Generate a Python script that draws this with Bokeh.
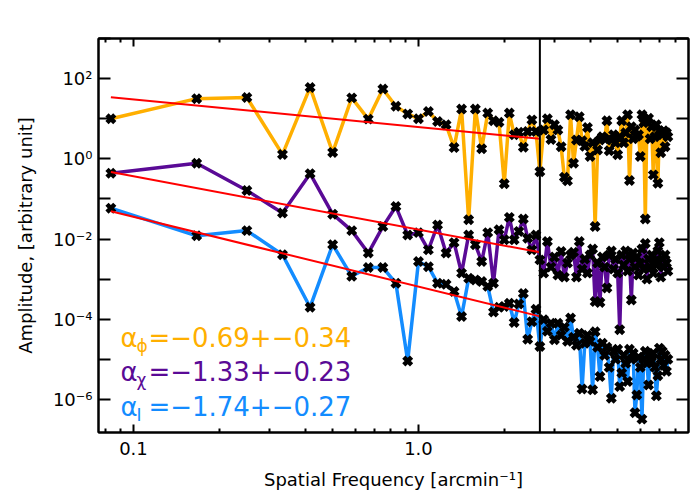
import numpy as np
from bokeh.plotting import figure
from bokeh.models import LogAxis, FixedTicker, Span, Label
from bokeh.embed import file_html
from bokeh.resources import INLINE

# ---------------- data ----------------
# FFT frequency bins: k / 12 arcmin^-1, k = 1..90
freq = np.arange(1, 91) / 12.0

# log10 of amplitude, one value per frequency bin
phi_log10 = [
    1.00, 1.50, 1.53, 0.11, 1.78, 0.16, 1.52, 0.99, 1.74, 1.31,
    1.12, 1.00, 1.18, 0.93, 0.85, 0.28, 1.24, -1.52, 1.24, 0.25,
    1.14, 0.95, 0.91, -0.62, 1.14, 0.60, 0.66, 0.29, 0.68, 0.97,
    0.68, -0.32, 0.72, 1.00, 0.48, 0.85, 0.72, 0.30, -0.46, -0.55,
    1.10, -0.11, 0.47, 1.05, 0.45, 0.31, 0.78, 0.06, 0.40, -1.69,
    0.22, 0.47, 0.55, 0.50, 0.95, 0.20, 0.47, 0.60, 0.40, 0.10,
    0.55, 0.95, 0.40, 0.65, 1.10, -0.54, 0.80, 0.50, 0.72, 0.56,
    0.60, 0.06, 1.10, 0.90, -1.50, 0.95, 1.01, 0.50, 0.80, -0.40,
    0.55, 0.85, -0.61, 0.70, 0.15, 0.60, 0.70, 0.30, 0.65, 0.55,
]
chi_log10 = [
    -0.36, -0.11, -0.79, -1.35, -0.37, -1.38, -1.79, -2.35, -1.69, -1.19,
    -1.90, -1.84, -2.27, -1.65, -2.35, -2.09, -2.85, -1.90, -2.14, -2.56,
    -1.84, -3.10, -1.77, -2.02, -1.46, -2.02, -1.81, -1.50, -1.98, -2.27,
    -1.90, -2.52, -2.85, -2.06, -2.70, -2.45, -2.90, -2.31, -2.95, -2.60,
    -2.40, -2.33, -2.95, -2.06, -2.75, -2.50, -2.85, -2.40, -2.25, -3.56,
    -2.60, -3.58, -2.45, -2.70, -3.22, -2.40, -2.30, -2.75, -2.50, -2.85,
    -4.26, -2.40, -2.65, -2.30, -2.80, -2.50, -3.52, -2.35, -2.70, -2.45,
    -2.90, -2.60, -2.25, -2.75, -2.11, -3.00, -2.50, -2.70, -2.40, -2.85,
    -2.55, -2.65, -2.30, -2.09, -2.95, -2.50, -2.70, -2.40, -2.60, -2.80,
]
I_log10 = [
    -1.23, -1.92, -1.79, -2.39, -3.70, -2.14, -2.93, -2.71, -2.71, -3.10,
    -5.04, -2.56, -2.69, -3.10, -3.13, -3.31, -3.93, -2.98, -3.02, -3.06,
    -3.18, -3.82, -3.70, -3.68, -3.60, -4.08, -3.62, -3.36, -4.50, -4.06,
    -3.75, -4.68, -4.01, -4.30, -4.10, -4.51, -4.10, -4.40, -4.20, -4.55,
    -3.97, -4.45, -4.65, -4.35, -5.74, -4.60, -4.40, -4.55, -5.76, -4.31,
    -4.70, -5.43, -4.60, -4.90, -4.70, -5.20, -5.97, -4.80, -5.00, -4.75,
    -5.68, -5.34, -4.90, -5.10, -5.55, -4.75, -5.00, -4.85, -6.33, -5.89,
    -4.95, -5.20, -6.49, -5.00, -4.80, -5.10, -5.64, -4.90, -5.05, -4.85,
    -5.20, -5.91, -5.41, -4.72, -5.00, -4.80, -5.15, -4.90, -5.30, -5.00,
]

# power-law fits: slope alpha, error, and amplitude at 1 arcmin^-1
fit_names = ["phi", "chi", "I"]
fit_alpha = [-0.69, -1.33, -1.74]
fit_err = [-0.34, -0.23, -0.27]
fit_amp_at_1 = [6.2, 0.0172, 6.5e-4]
fit_xmin = 1.0 / 12.0
x_break = 32.0 / 12.0   # vertical line / end of fit range

colors = ["#FFAF00", "#5A0A96", "#138CFF"]
subscripts = ["\u03d5", "\u03c7", "I"]

# ---------------- figure ----------------
FONT = "DejaVu Sans"
p = figure(frame_width=590, frame_height=394, x_axis_type="log", y_axis_type="log",
           x_range=(0.0754, 8.86), y_range=(1.5e-7, 1e3),
           output_backend="svg", toolbar_location=None,
           min_border_left=98, min_border_right=2, min_border_top=38,
           min_border_bottom=60)
p.xgrid.visible = False
p.ygrid.visible = False
p.outline_line_color = "black"
p.outline_line_width = 2
p.background_fill_color = "white"
p.border_fill_color = "white"

x_major = [0.1, 1.0]
x_minor = [0.08, 0.09, 0.2, 0.3, 0.4, 0.5, 0.6, 0.7, 0.8, 0.9,
           2, 3, 4, 5, 6, 7, 8]
y_major = [1e-6, 1e-4, 1e-2, 1.0, 1e2]
y_minor = [1e-5, 1e-3, 1e-1, 1e1, 1e3]
x_labels = {0.1: "0.1", 1.0: "1.0"}
y_labels = {1e-6: "10\u207b\u2076", 1e-4: "10\u207b\u2074", 1e-2: "10\u207b\u00b2",
            1.0: "10\u2070", 1e2: "10\u00b2"}


def style_axis(ax, major, minor, labels, tick_major, tick_minor, show_labels):
    ax.ticker = FixedTicker(ticks=major, minor_ticks=minor)
    ax.axis_line_color = "black"
    ax.axis_line_width = 2
    ax.major_tick_in = tick_major
    ax.major_tick_out = 0
    ax.minor_tick_in = tick_minor
    ax.minor_tick_out = 0
    ax.major_tick_line_width = 2
    ax.minor_tick_line_width = 2
    ax.major_tick_line_color = "black"
    ax.minor_tick_line_color = "black"
    if show_labels:
        ax.major_label_overrides = labels
        ax.major_label_text_font = FONT
        ax.major_label_text_font_size = "18px"
        ax.major_label_text_color = "black"
        ax.axis_label_text_font = FONT
        ax.axis_label_text_font_size = "18px"
        ax.axis_label_text_font_style = "normal"
        ax.axis_label_text_color = "black"
    else:
        ax.major_label_text_font_size = "0px"
        ax.major_label_text_color = None
        ax.major_label_standoff = 0
        ax.axis_label_standoff = 0


bx = p.xaxis[0]
style_axis(bx, x_major, x_minor, x_labels, 8, 4, True)
bx.axis_label = "Spatial Frequency [arcmin\u207b\u00b9]"
bx.major_label_standoff = 9
bx.axis_label_standoff = 11

ly = p.yaxis[0]
style_axis(ly, y_major, y_minor, y_labels, 12, 12, True)
ly.axis_label = "Amplitude, [arbitrary unit]"
ly.major_label_standoff = 6
ly.axis_label_standoff = 14

top = LogAxis()
style_axis(top, x_major, x_minor, x_labels, 8, 4, False)
p.add_layout(top, "above")
right = LogAxis()
style_axis(right, y_major, y_minor, y_labels, 12, 12, False)
p.add_layout(right, "right")

# ---------------- series ----------------
series = [phi_log10, chi_log10, I_log10]
for vals, col in zip(series, colors):
    amp = 10.0 ** np.array(vals)
    p.line(freq, amp, line_color=col, line_width=3.5)

for vals in series:
    amp = 10.0 ** np.array(vals)
    p.scatter(freq, amp, marker="x", size=11, line_color="black", line_width=4.5)

for a, amp1 in zip(fit_alpha, fit_amp_at_1):
    xf = np.array([fit_xmin, x_break])
    p.line(xf, amp1 * xf ** a, line_color="#FF0000", line_width=2)

p.add_layout(Span(location=x_break, dimension="height", line_color="black",
                  line_width=2))

# ---------------- fit annotations ----------------
label_y = [3.5e-5, 4.9e-6, 6.6e-7]
label_x = 0.090
for a, e, col, sub, yy in zip(fit_alpha, fit_err, colors, subscripts, label_y):
    p.add_layout(Label(x=label_x, y=yy, text="\u03b1", text_color=col,
                       text_font=FONT, text_font_size="26px",
                       text_baseline="middle"))
    p.add_layout(Label(x=label_x, y=yy, x_offset=16, y_offset=-8, text=sub,
                       text_color=col, text_font=FONT, text_font_size="17px",
                       text_baseline="middle"))
    txt = "=" + f"{a:.2f}".replace("-", "\u2212") + "+" + f"{e:.2f}".replace("-", "\u2212")
    p.add_layout(Label(x=label_x, y=yy, x_offset=28, text=txt, text_color=col,
                       text_font=FONT, text_font_size="26px",
                       text_baseline="middle"))

open("out.html", "w").write(file_html(p, INLINE))
